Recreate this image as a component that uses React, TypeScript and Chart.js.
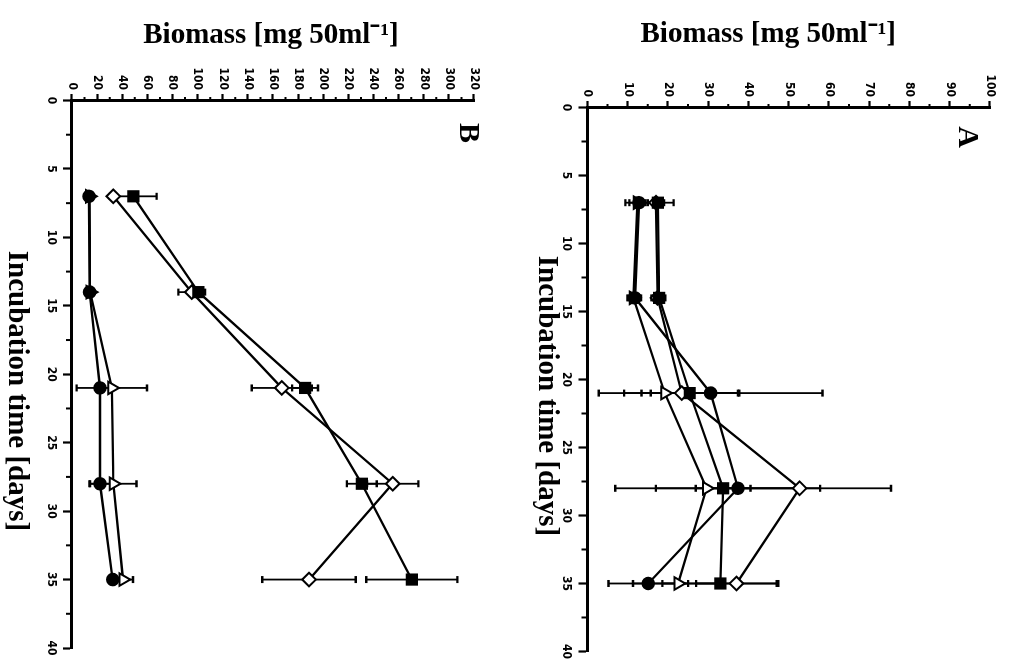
import React, { useEffect, useRef } from 'react';
import { Chart, registerables } from 'chart.js';

Chart.register(...registerables);

// ---------------- DATA ----------------
const days = [7, 14, 21, 28, 35];

const incubationTicks = [0, 5, 10, 15, 20, 25, 30, 35, 40];
const incubationMinorTicks = [2.5, 7.5, 12.5, 17.5, 22.5, 27.5, 32.5, 37.5];

const biomassTicksA = [0, 10, 20, 30, 40, 50, 60, 70, 80, 90, 100];
const biomassMinorTicksA = [5, 15, 25, 35, 45, 55, 65, 75, 85, 95];
const biomassTicksB = [0, 20, 40, 60, 80, 100, 120, 140, 160, 180, 200, 220, 240, 260, 280, 300, 320];
const biomassMinorTicksB = [10, 30, 50, 70, 90, 110, 130, 150, 170, 190, 210, 230, 250, 270, 290, 310];

// Panel A
const aCircle = [12.8, 11.8, 30.6, 37.4, 15.1];
const aCircleErr = [3.4, 1.5, 27.8, 20.4, 9.9];
const aSquare = [17.5, 17.8, 25.4, 33.7, 33.0];
const aSquareErr = [3.9, 1.5, 12.0, 6.8, 14.4];
const aDiamond = [17.0, 17.4, 23.4, 52.7, 37.0];
const aDiamondErr = [2.0, 1.5, 14.3, 22.7, 10.0];
const aTriangle = [12.4, 11.4, 19.2, 29.6, 22.5];
const aTriangleErr = [2.0, 1.5, 3.5, 22.7, 11.2];

// Panel B
const bCircle = [13.5, 14.0, 22.3, 22.3, 32.4];
const bCircleErr = [1.0, 1.0, 3.0, 8.5, 2.0];
const bSquare = [48.8, 100.6, 185.5, 230.7, 270.5];
const bSquareErr = [18.6, 3.0, 10.3, 11.9, 36.3];
const bDiamond = [32.9, 95.3, 167.0, 255.3, 188.7];
const bDiamondErr = [2.0, 10.6, 23.9, 20.4, 37.2];
const bTriangle = [14.0, 14.5, 31.7, 32.9, 40.6];
const bTriangleErr = [1.0, 1.0, 28.0, 18.5, 8.0];

const xTitleText = 'Incubation time [days]';
const yTitleText = 'Biomass [mg 50ml\u207B\u00B9]';

// ---------------- STYLES ----------------
const MARKERS: Record<string, { pointStyle: string; radius: number; fill: string }> = {
  circle: { pointStyle: 'circle', radius: 5.8, fill: '#000' },
  square: { pointStyle: 'rect', radius: 7.2, fill: '#000' },
  diamond: { pointStyle: 'rectRot', radius: 6.8, fill: '#fff' },
  triangle: { pointStyle: 'triangle', radius: 7.2, fill: '#fff' },
};

const TICK_FONT = {
  family: '"Liberation Sans Narrow", "DejaVu Sans Condensed", "Liberation Sans", Arial, sans-serif',
  size: 12,
  weight: 'bold' as const,
};
const TITLE_FONT = 'bold 29px "Liberation Serif", "Times New Roman", serif';
const LABEL_FONT = 'bold 30px "Liberation Serif", "Times New Roman", serif';

type Series = { name: string; marker: string; values: number[]; errors: number[] };
type Panel = {
  label: string;
  yMax: number;
  yTicks: number[];
  yMinor: number[];
  series: Series[];
  padTop: number;
  padRight: number;
  yAxisWidth: number;
  xAxisHeight: number;
  xTitleGap: number;
  xTitleShift: number;
  yTitleGap: number;
  yTitleShift: number;
  labelDx: number;
  labelDy: number;
};

const panelA: Panel = {
  label: 'A',
  yMax: 100,
  yTicks: biomassTicksA,
  yMinor: biomassMinorTicksA,
  series: [
    { name: 'circle', marker: 'circle', values: aCircle, errors: aCircleErr },
    { name: 'square', marker: 'square', values: aSquare, errors: aSquareErr },
    { name: 'diamond', marker: 'diamond', values: aDiamond, errors: aDiamondErr },
    { name: 'triangle', marker: 'triangle', values: aTriangle, errors: aTriangleErr },
  ],
  padTop: 19,
  padRight: 8.5,
  yAxisWidth: 107.5,
  xAxisHeight: 78.5,
  xTitleGap: 41,
  xTitleShift: 16.5,
  yTitleGap: 73,
  yTitleShift: 20.5,
  labelDx: 29.5,
  labelDy: 23,
};

const panelB: Panel = {
  label: 'B',
  yMax: 320,
  yTicks: biomassTicksB,
  yMinor: biomassMinorTicksB,
  series: [
    { name: 'circle', marker: 'circle', values: bCircle, errors: bCircleErr },
    { name: 'square', marker: 'square', values: bSquare, errors: bSquareErr },
    { name: 'diamond', marker: 'diamond', values: bDiamond, errors: bDiamondErr },
    { name: 'triangle', marker: 'triangle', values: bTriangle, errors: bTriangleErr },
  ],
  padTop: 35,
  padRight: 16,
  yAxisWidth: 100.5,
  xAxisHeight: 72,
  xTitleGap: 55.3,
  xTitleShift: 16.75,
  yTitleGap: 65,
  yTitleShift: 2,
  labelDx: 32.5,
  labelDy: 6,
};

// ---------------- PLUGIN ----------------
const decoPlugin = {
  id: 'deco',
  beforeDatasetsDraw(chart: any) {
    const xs = chart.scales.x;
    const ys = chart.scales.y;
    const ctx = chart.ctx;
    ctx.save();
    ctx.strokeStyle = '#000';
    const cap = 3.5;
    chart.data.datasets.forEach((ds: any) => {
      const errs: number[] = ds.errors || [];
      ds.data.forEach((p: any, i: number) => {
        const e = errs[i];
        if (!e) return;
        const px = xs.getPixelForValue(p.x);
        const y1 = ys.getPixelForValue(p.y - e);
        const y2 = ys.getPixelForValue(p.y + e);
        ctx.lineWidth = 1.8;
        ctx.beginPath();
        ctx.moveTo(px, y1);
        ctx.lineTo(px, y2);
        ctx.stroke();
        ctx.lineWidth = 2.4;
        ctx.beginPath();
        ctx.moveTo(px - cap, y1);
        ctx.lineTo(px + cap, y1);
        ctx.moveTo(px - cap, y2);
        ctx.lineTo(px + cap, y2);
        ctx.stroke();
      });
    });
    ctx.restore();
  },
  afterDraw(chart: any, _args: any, opts: any) {
    const { ctx, chartArea } = chart;
    const xs = chart.scales.x;
    const ys = chart.scales.y;
    ctx.save();
    ctx.strokeStyle = '#000';
    ctx.lineWidth = 2;
    // minor ticks
    ctx.beginPath();
    (opts.xMinor || []).forEach((v: number) => {
      const px = xs.getPixelForValue(v);
      ctx.moveTo(px, chartArea.bottom);
      ctx.lineTo(px, chartArea.bottom + 6);
    });
    (opts.yMinor || []).forEach((v: number) => {
      const py = ys.getPixelForValue(v);
      ctx.moveTo(chartArea.left - 3.5, py);
      ctx.lineTo(chartArea.left, py);
    });
    ctx.stroke();

    ctx.fillStyle = '#000';
    ctx.textAlign = 'center';
    ctx.textBaseline = 'middle';
    // x title
    ctx.font = TITLE_FONT;
    ctx.fillText(
      opts.xTitle,
      (chartArea.left + chartArea.right) / 2 + opts.xTitleShift,
      chartArea.bottom + opts.xTitleGap
    );
    // y title
    ctx.save();
    ctx.translate(chartArea.left - opts.yTitleGap, (chartArea.top + chartArea.bottom) / 2 + opts.yTitleShift);
    ctx.rotate(-Math.PI / 2);
    ctx.fillText(opts.yTitle, 0, 0);
    ctx.restore();
    // panel label
    ctx.font = LABEL_FONT;
    ctx.fillText(opts.label, chartArea.left + opts.labelDx, chartArea.top + opts.labelDy);
    ctx.restore();
  },
};

function buildConfig(p: Panel): any {
  const datasets = p.series.map((s) => {
    const m = MARKERS[s.marker];
    return {
      label: s.name,
      data: days.map((d, i) => ({ x: d, y: s.values[i] })),
      errors: s.errors,
      borderColor: '#000',
      borderWidth: 2.3,
      backgroundColor: m.fill,
      pointStyle: m.pointStyle,
      pointRadius: m.radius,
      pointBackgroundColor: m.fill,
      pointBorderColor: '#000',
      pointBorderWidth: 2,
      tension: 0,
      fill: false,
      clip: false,
    };
  });
  return {
    type: 'line',
    data: { datasets },
    options: {
      animation: false,
      responsive: false,
      devicePixelRatio: 1,
      events: [],
      layout: { padding: { top: p.padTop, right: p.padRight, left: 0, bottom: 0 } },
      plugins: {
        legend: { display: false },
        tooltip: { enabled: false },
        deco: {
          xMinor: incubationMinorTicks,
          yMinor: p.yMinor,
          xTitle: xTitleText,
          yTitle: yTitleText,
          xTitleGap: p.xTitleGap,
          xTitleShift: p.xTitleShift,
          yTitleGap: p.yTitleGap,
          yTitleShift: p.yTitleShift,
          label: p.label,
          labelDx: p.labelDx,
          labelDy: p.labelDy,
        },
      },
      scales: {
        x: {
          type: 'linear',
          min: 0,
          max: 40,
          afterBuildTicks: (s: any) => {
            s.ticks = incubationTicks.map((v) => ({ value: v }));
          },
          afterFit: (s: any) => {
            s.height = p.xAxisHeight;
          },
          ticks: { font: TICK_FONT, color: '#000', padding: 5, autoSkip: false, maxRotation: 0, minRotation: 0 },
          grid: { display: true, drawOnChartArea: false, drawTicks: true, tickLength: 9, tickWidth: 2.2, tickColor: '#000', color: '#000' },
          border: { display: true, color: '#000', width: 3 },
          title: { display: false },
        },
        y: {
          type: 'linear',
          min: 0,
          max: p.yMax,
          afterBuildTicks: (s: any) => {
            s.ticks = p.yTicks.map((v) => ({ value: v }));
          },
          afterFit: (s: any) => {
            s.width = p.yAxisWidth;
          },
          ticks: { font: TICK_FONT, color: '#000', padding: 4, autoSkip: false },
          grid: { display: true, drawOnChartArea: false, drawTicks: true, tickLength: 6.5, tickWidth: 2.2, tickColor: '#000', color: '#000' },
          border: { display: true, color: '#000', width: 3 },
          title: { display: false },
        },
      },
    },
    plugins: [decoPlugin],
  };
}

const FRAME_W = 664;
const FRAME_H = 1009;
const A_H = 500;
const B_H = FRAME_H - A_H;

export default function App() {
  const refA = useRef<HTMLCanvasElement | null>(null);
  const refB = useRef<HTMLCanvasElement | null>(null);

  useEffect(() => {
    document.body.style.overflow = 'hidden';
    const a = new Chart(refA.current as HTMLCanvasElement, buildConfig(panelA));
    const b = new Chart(refB.current as HTMLCanvasElement, buildConfig(panelB));
    return () => {
      a.destroy();
      b.destroy();
    };
  }, []);

  return (
    <div
      style={{
        position: 'fixed',
        left: 0,
        top: 0,
        width: FRAME_W,
        height: FRAME_H,
        transformOrigin: '0 0',
        transform: `translate(${FRAME_H}px, 0px) rotate(90deg)`,
        background: '#fff',
      }}
    >
      <canvas ref={refA} width={FRAME_W} height={A_H} style={{ display: 'block', width: FRAME_W, height: A_H }} />
      <canvas ref={refB} width={FRAME_W} height={B_H} style={{ display: 'block', width: FRAME_W, height: B_H }} />
    </div>
  );
}
